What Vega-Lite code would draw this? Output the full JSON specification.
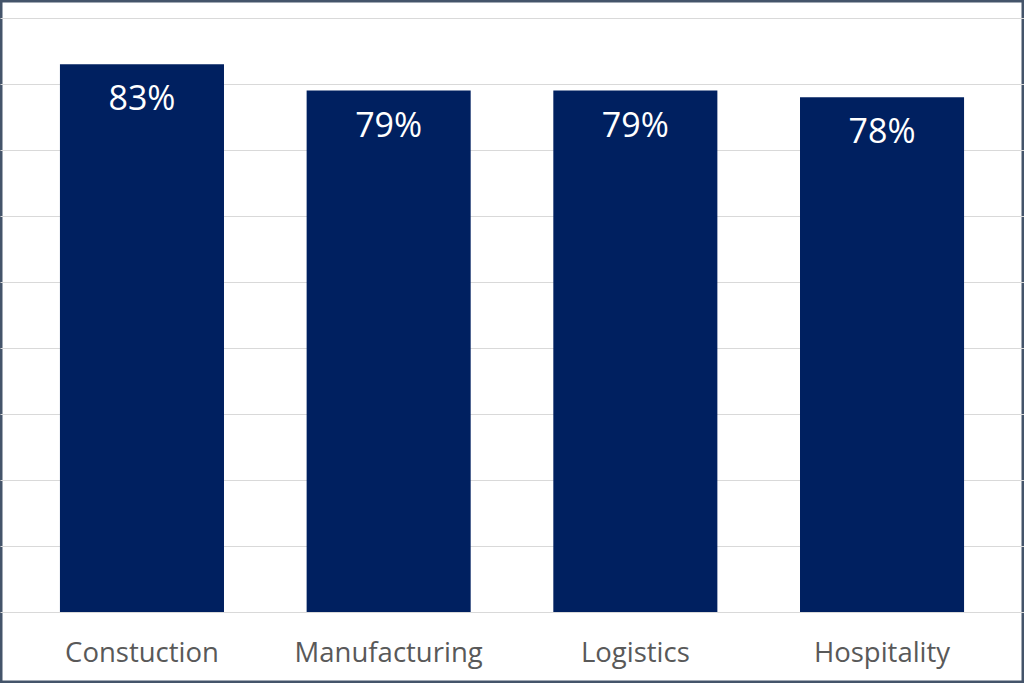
{
  "$schema": "https://vega.github.io/schema/vega-lite/v6.json",
  "width": 1024,
  "height": 683,
  "padding": 0,
  "autosize": "none",
  "background": "white",
  "config": {
    "view": {"stroke": "#44546a", "strokeWidth": 5},
    "font": "Open Sans"
  },
  "data": {
    "values": [
      {"sector": "Constuction", "share": 0.83},
      {"sector": "Manufacturing", "share": 0.79},
      {"sector": "Logistics", "share": 0.79},
      {"sector": "Hospitality", "share": 0.78}
    ]
  },
  "encoding": {
    "x": {
      "field": "sector",
      "type": "nominal",
      "sort": null,
      "scale": {"paddingInner": 0.335, "paddingOuter": 0.243},
      "axis": {
        "title": null,
        "orient": "bottom",
        "offset": -71,
        "domain": false,
        "ticks": false,
        "labelAngle": 0,
        "labelFontSize": 27.5,
        "labelColor": "#595959",
        "labelPadding": 27,
        "labelLimit": 400
      }
    },
    "y": {
      "field": "share",
      "type": "quantitative",
      "scale": {"domain": [-0.1076, 0.9273], "nice": false, "zero": false},
      "axis": {
        "title": null,
        "values": [0, 0.1, 0.2, 0.3, 0.4, 0.5, 0.6, 0.7, 0.8, 0.9],
        "labels": false,
        "ticks": false,
        "domain": false,
        "grid": true,
        "gridColor": "#d9d9d9",
        "gridWidth": 1
      }
    }
  },
  "layer": [
    {
      "mark": {"type": "bar", "color": "#002060"},
      "encoding": {"y2": {"datum": 0}}
    },
    {
      "mark": {"type": "text", "color": "white", "fontSize": 34, "baseline": "middle", "dy": 36},
      "encoding": {"text": {"field": "share", "type": "quantitative", "format": ".0%"}}
    }
  ]
}
